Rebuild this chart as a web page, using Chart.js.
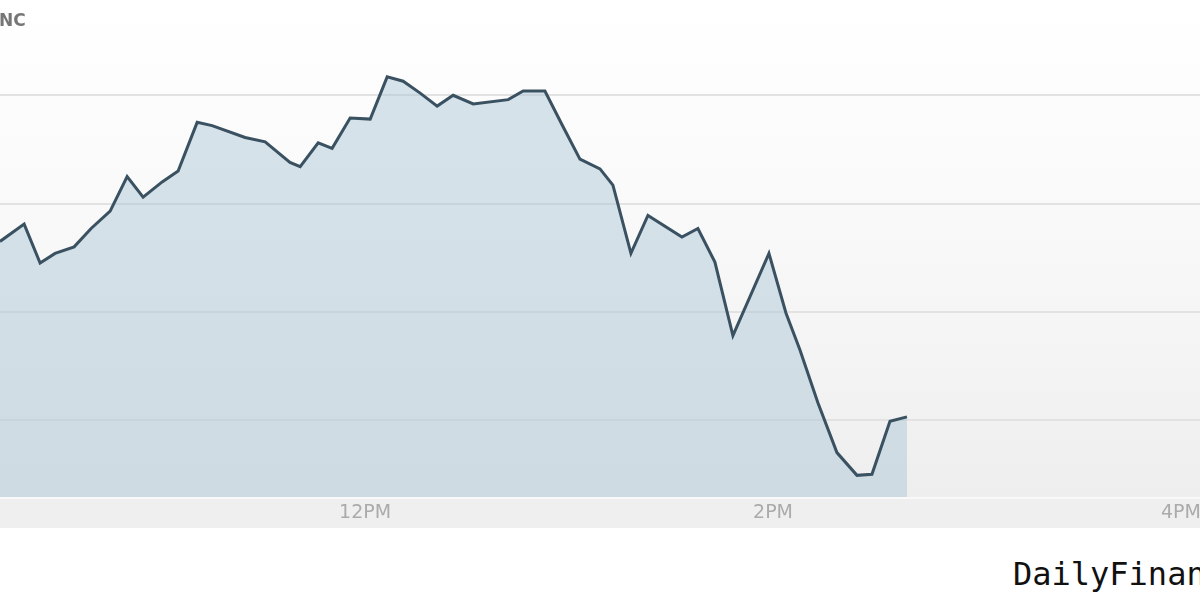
<!DOCTYPE html>
<html>
<head>
<meta charset="utf-8">
<script src="https://cdn.jsdelivr.net/npm/chart.js@4.4.1/dist/chart.umd.min.js"></script>
<style>
  html, body { margin: 0; padding: 0; background: #fff; }
  #wrap { position: relative; width: 1200px; height: 600px; overflow: hidden; }
  #chart { position: absolute; left: 0; top: 0; }
  #ticker { position: absolute; left: -1px; top: 10px; font: bold 17px "DejaVu Sans", sans-serif; color: #767676; }
  #brand { position: absolute; left: 1013px; top: 555px; font: 32px "DejaVu Sans Mono", monospace; color: #111; white-space: nowrap; }
</style>
</head>
<body>
<div id="wrap">
  <canvas id="chart" width="1200" height="528"></canvas>
  <div id="ticker">NC</div>
  <div id="brand">DailyFinance</div>
</div>
<script>
// minutes since midnight
const times = [612.6, 619.7, 624.4, 628.8, 634.4, 639.4, 645.0, 650.0, 654.7, 660.3,
  665.0, 670.6, 675.0, 684.7, 690.6, 697.9, 700.9, 706.2, 710.3, 715.6,
  721.5, 726.5, 731.2, 736.2, 741.2, 745.9, 751.8, 762.1, 766.5, 772.9,
  777.9, 783.2, 789.1, 792.9, 798.2, 803.2, 813.2, 817.9, 822.9, 828.2,
  838.8, 843.8, 847.9, 853.2, 858.8, 864.7, 869.1, 874.4, 879.4];

const prices = [41.65, 41.81, 41.45, 41.54, 41.60, 41.77, 41.93, 42.25, 42.06, 42.20,
  42.30, 42.75, 42.72, 42.61, 42.57, 42.38, 42.34, 42.56, 42.51, 42.79,
  42.78, 43.17, 43.13, 43.02, 42.90, 43.00, 42.92, 42.96, 43.04, 43.04,
  42.73, 42.41, 42.32, 42.17, 41.54, 41.89, 41.69, 41.77, 41.46, 40.78,
  41.54, 40.99, 40.65, 40.16, 39.70, 39.49, 39.50, 39.99, 40.03];

const xTicks = [720, 840, 960];
const xLabels = ['12PM', '2PM', '4PM'];
const yTicks = [40, 41, 42, 43];

const points = times.map((t, i) => ({ x: t, y: prices[i] }));

// background: soft gradient in the plot, grey band behind the time axis
const backdrop = {
  id: 'backdrop',
  beforeDraw(chart) {
    const { ctx, chartArea } = chart;
    ctx.save();
    const g = ctx.createLinearGradient(0, chartArea.top, 0, chartArea.bottom);
    g.addColorStop(0, '#ffffff');
    g.addColorStop(0.5, '#f8f8f8');
    g.addColorStop(1, '#eeeeee');
    ctx.fillStyle = g;
    ctx.fillRect(0, chartArea.top, chart.width, chartArea.bottom - chartArea.top);
    ctx.fillStyle = '#efefef';
    ctx.fillRect(0, chartArea.bottom, chart.width, 31);
    ctx.fillStyle = '#f9f9f9';
    ctx.fillRect(0, chartArea.bottom, chart.width, 2);
    ctx.restore();
  }
};

new Chart(document.getElementById('chart').getContext('2d'), {
  type: 'line',
  data: {
    datasets: [{
      data: points,
      borderColor: '#3a5162',
      borderWidth: 3,
      backgroundColor: 'rgba(168,195,210,0.45)',
      fill: 'start',
      pointRadius: 0,
      tension: 0
    }]
  },
  options: {
    responsive: false,
    animation: false,
    layout: { padding: 0, autoPadding: false },
    plugins: {
      legend: { display: false },
      tooltip: { enabled: false }
    },
    scales: {
      x: {
        type: 'linear',
        min: 612.6,
        max: 965.6,
        afterBuildTicks: axis => { axis.ticks = xTicks.map(v => ({ value: v })); },
        afterFit: axis => { axis.height = 31; axis.paddingLeft = 0; axis.paddingRight = 0; },
        ticks: {
          autoSkip: false,
          maxRotation: 0,
          padding: -3,
          color: '#ababab',
          font: { family: 'DejaVu Sans', size: 19 },
          callback: v => xLabels[xTicks.indexOf(v)]
        },
        grid: { display: false },
        border: { display: false }
      },
      y: {
        min: 39.29,
        max: 43.88,
        afterBuildTicks: axis => { axis.ticks = yTicks.map(v => ({ value: v })); },
        afterFit: axis => { axis.width = 0; },
        ticks: { display: false },
        grid: { color: '#e2e2e2', lineWidth: 2, drawTicks: false },
        border: { display: false }
      }
    }
  },
  plugins: [backdrop]
});
</script>
</body>
</html>
